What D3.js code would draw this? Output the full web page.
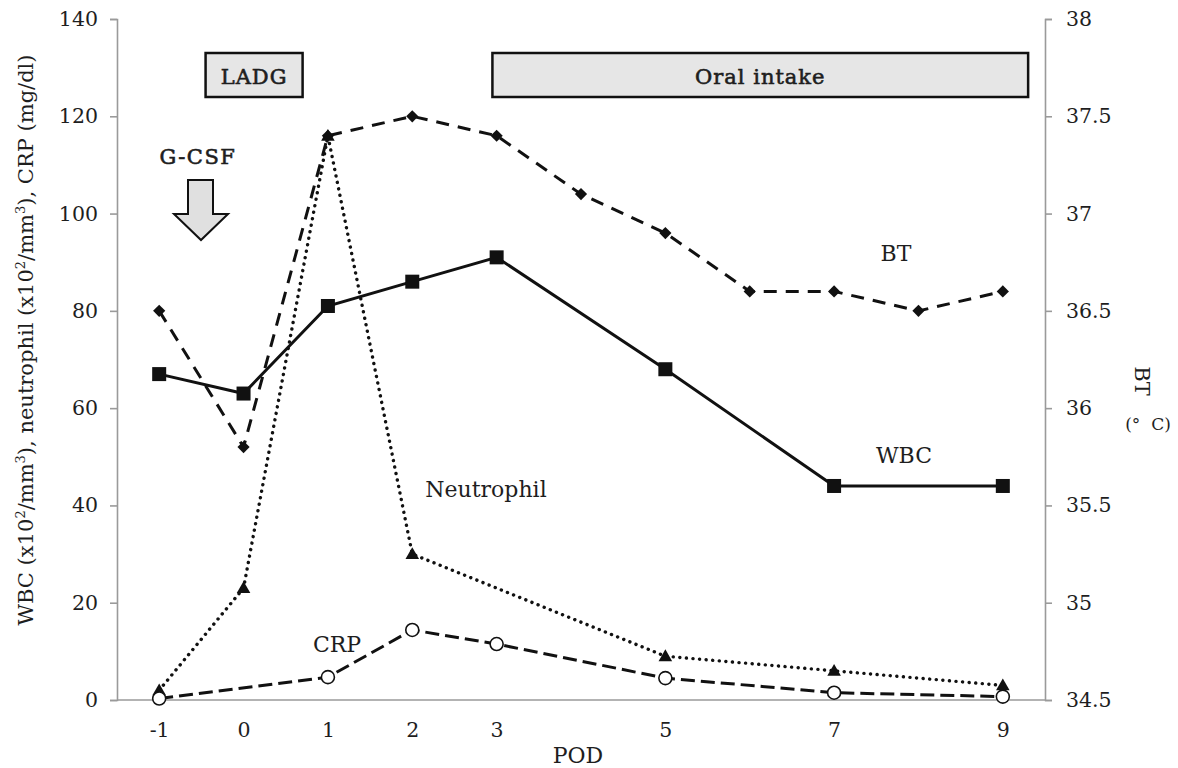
<!DOCTYPE html>
<html>
<head>
<meta charset="utf-8">
<script src="https://cdn.jsdelivr.net/npm/d3@7"></script>
<style>
  body { margin: 0; background: #fff; }
  text { font-family: "DejaVu Serif", "Liberation Serif", serif; fill: #1e1e1e; }
</style>
</head>
<body>
<script>
// POD days and values
const podTicks = [-1, 0, 1, 2, 3, 5, 7, 9];
const wbcDays = [-1, 0, 1, 2, 3, 5, 7, 9];
const wbc = [67, 63, 81, 86, 91, 68, 44, 44];
const neutDays = [-1, 0, 1, 2, 5, 7, 9];
const neutrophil = [2, 23, 116, 30, 9, 6, 3];
const crpDays = [-1, 1, 2, 3, 5, 7, 9];
const crp = [0.3, 4.7, 14.4, 11.5, 4.5, 1.5, 0.7];
const btDays = [-1, 0, 1, 2, 3, 4, 5, 6, 7, 8, 9];
const bt = [36.5, 35.8, 37.4, 37.5, 37.4, 37.1, 36.9, 36.6, 36.6, 36.5, 36.6];
const leftTicks = [0, 20, 40, 60, 80, 100, 120, 140];
const rightTicks = [34.5, 35, 35.5, 36, 36.5, 37, 37.5, 38];

const W = 1178, H = 768;
const margin = { left: 117, right: 1045, top: 19, bottom: 700 };

const svg = d3.select("body").append("svg")
    .attr("width", W)
    .attr("height", H);

var x = d3.scaleLinear().domain([-1.5, 9.5]).range([margin.left, margin.right]);
var y = d3.scaleLinear().domain([0, 140]).range([margin.bottom, margin.top]);
var yBT = d3.scaleLinear().domain([34.5, 38]).range([margin.bottom, margin.top]);

const axisColor = "#9a9a9a";

// left axis
const gl = svg.append("g")
    .attr("transform", `translate(${margin.left},0)`)
    .call(d3.axisLeft(y).tickValues(leftTicks).tickSize(7).tickPadding(12));
// right axis
const gr = svg.append("g")
    .attr("transform", `translate(${margin.right},0)`)
    .call(d3.axisRight(yBT).tickValues(rightTicks).tickSize(7).tickPadding(14)
      .tickFormat(d => String(d)));
// bottom axis
const gb = svg.append("g")
    .attr("transform", `translate(0,${margin.bottom})`)
    .call(d3.axisBottom(x).tickValues(podTicks).tickSize(0).tickPadding(22)
      .tickFormat(d => String(d)));

[gl, gr, gb].forEach(g => {
  g.select(".domain").attr("stroke", axisColor).attr("stroke-width", 1.6);
  g.selectAll(".tick line").attr("stroke", axisColor).attr("stroke-width", 1.6);
  g.selectAll(".tick text")
    .attr("font-family", '"DejaVu Serif", serif')
    .attr("font-size", 20.5)
    .attr("fill", "#1e1e1e");
});
gb.select(".domain").attr("d", `M${margin.left},0H${margin.right}`);

// annotation boxes
function box(x0, x1, label) {
  svg.append("rect")
    .attr("x", x0).attr("y", 53)
    .attr("width", x1 - x0).attr("height", 44)
    .attr("fill", "#e6e6e6")
    .attr("stroke", "#111")
    .attr("stroke-width", 2.5);
  svg.append("text")
    .attr("x", (x0 + x1) / 2).attr("y", 84)
    .attr("text-anchor", "middle")
    .attr("font-size", 21)
    .attr("letter-spacing", 1)
    .attr("stroke", "#1e1e1e")
    .attr("stroke-width", 0.6)
    .text(label);
}
box(x(-0.45), x(0.7), "LADG");
box(x(2.95), x(9.3), "Oral intake");

// G-CSF arrow
svg.append("text")
  .attr("x", 198).attr("y", 164)
  .attr("text-anchor", "middle")
  .attr("font-size", 21)
  .attr("letter-spacing", 1.5)
  .attr("stroke", "#1e1e1e")
  .attr("stroke-width", 0.6)
  .text("G-CSF");
svg.append("path")
  .attr("d", "M188,180 H213 V214 H228 L201,240 L174,214 H188 Z")
  .attr("fill", "#e0e0e0")
  .attr("stroke", "#111")
  .attr("stroke-width", 2)
  .attr("stroke-linejoin", "miter");

// lines
const lineOf = (days, vals, scale) => d3.line()
  .x((d, i) => x(days[i]))
  .y((d) => scale(d))(vals);

svg.append("path")
  .attr("d", lineOf(neutDays, neutrophil, y))
  .attr("fill", "none")
  .attr("stroke", "#111")
  .attr("stroke-width", 3.4)
  .attr("stroke-linecap", "round")
  .attr("stroke-dasharray", "0.1 6.5");

svg.append("path")
  .attr("d", lineOf(crpDays, crp, y))
  .attr("fill", "none")
  .attr("stroke", "#111")
  .attr("stroke-width", 3)
  .attr("stroke-dasharray", "14 6");

svg.append("path")
  .attr("d", lineOf(btDays, bt, yBT))
  .attr("fill", "none")
  .attr("stroke", "#111")
  .attr("stroke-width", 3)
  .attr("stroke-dasharray", "13 9");

svg.append("path")
  .attr("d", lineOf(wbcDays, wbc, y))
  .attr("fill", "none")
  .attr("stroke", "#111")
  .attr("stroke-width", 3);

// markers
svg.append("g").selectAll("path")
  .data(bt)
  .join("path")
  .attr("transform", (d, i) => `translate(${x(btDays[i])},${yBT(d)})`)
  .attr("d", d3.symbol(d3.symbolDiamond2, 95))
  .attr("fill", "#111");

svg.append("g").selectAll("path")
  .data(neutrophil)
  .join("path")
  .attr("transform", (d, i) => `translate(${x(neutDays[i])},${y(d) + 1})`)
  .attr("d", d3.symbol(d3.symbolTriangle, 80))
  .attr("fill", "#111");

svg.append("g").selectAll("rect")
  .data(wbc)
  .join("rect")
  .attr("x", (d, i) => x(wbcDays[i]) - 7)
  .attr("y", d => y(d) - 7)
  .attr("width", 14).attr("height", 14)
  .attr("fill", "#111");

svg.append("g").selectAll("circle")
  .data(crp)
  .join("circle")
  .attr("cx", (d, i) => x(crpDays[i]))
  .attr("cy", d => y(d))
  .attr("r", 6.5)
  .attr("fill", "#fff")
  .attr("stroke", "#111")
  .attr("stroke-width", 1.6);

// series labels
const labels = [
  ["BT", 896, 261],
  ["WBC", 904, 463],
  ["Neutrophil", 486, 497],
  ["CRP", 337, 652]
];
labels.forEach(([t, lx, ly]) => {
  svg.append("text")
    .attr("x", lx).attr("y", ly)
    .attr("text-anchor", "middle")
    .attr("font-size", 22)
    .text(t);
});

// axis titles
svg.append("text")
  .attr("x", 578).attr("y", 763)
  .attr("text-anchor", "middle")
  .attr("font-size", 22)
  .text("POD");

const yTitle = svg.append("text")
  .attr("transform", "translate(33,340) rotate(-90)")
  .attr("text-anchor", "middle")
  .attr("font-size", 21);
yTitle.append("tspan").text("WBC (x10");
yTitle.append("tspan").attr("font-size", 13).attr("dy", -8).text("2");
yTitle.append("tspan").attr("dy", 8).text("/mm");
yTitle.append("tspan").attr("font-size", 13).attr("dy", -8).text("3");
yTitle.append("tspan").attr("dy", 8).text("), neutrophil (x10");
yTitle.append("tspan").attr("font-size", 13).attr("dy", -8).text("2");
yTitle.append("tspan").attr("dy", 8).text("/mm");
yTitle.append("tspan").attr("font-size", 13).attr("dy", -8).text("3");
yTitle.append("tspan").attr("dy", 8).text("), CRP (mg/dl)");

svg.append("text")
  .attr("transform", "translate(1135,381) rotate(90)")
  .attr("text-anchor", "middle")
  .attr("font-size", 21)
  .text("BT");
svg.append("text")
  .attr("x", 1148).attr("y", 430)
  .attr("text-anchor", "middle")
  .attr("font-size", 17)
  .style("white-space", "pre")
  .text("(°  C)");
</script>
</body>
</html>
